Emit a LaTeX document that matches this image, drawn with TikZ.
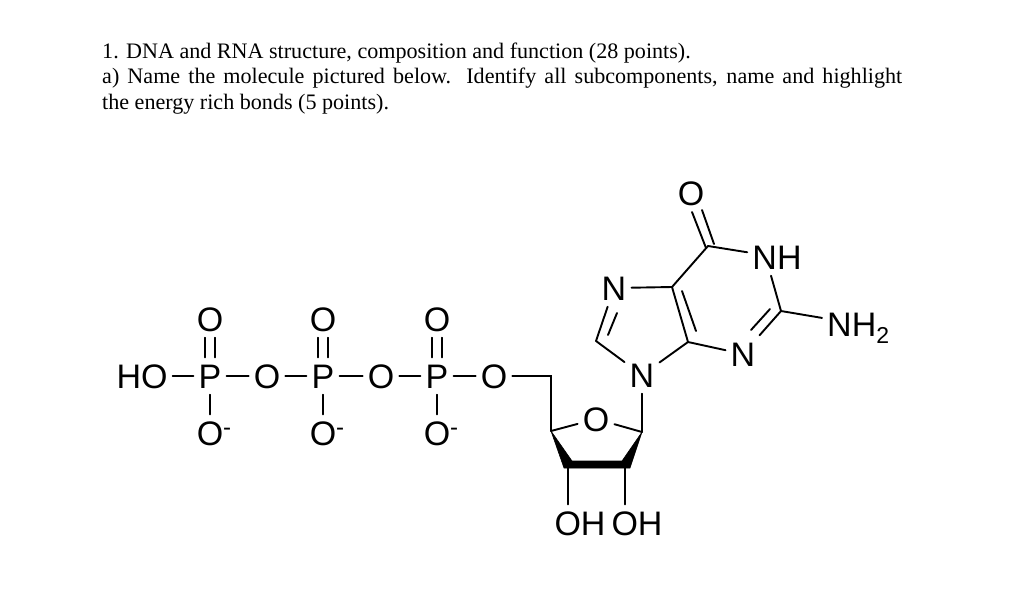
\documentclass[tikz,border=0pt]{standalone}
\usepackage{fontspec}
\setmainfont{Liberation Serif}
\newfontfamily\atomfont{Liberation Sans}
\usetikzlibrary{calc}

\tikzset{
    atom/.style={font=\atomfont\fontsize{34}{34}\selectfont, text height=24pt, text depth=0pt, inner xsep=5pt, inner ysep=6.5pt},
    bond/.style={line width=1.9pt, line cap=round},
    wedge/.style={fill=black, draw=black, line width=0.6pt, line join=round},
}

\begin{document}
\begin{tikzpicture}[
        x=1pt, y=-1pt,
    ]

    \useasboundingbox[fill=white] (0, 0) rectangle (1024, 598);

    \node[anchor=north west, align=left, inner sep=0pt,
          font=\fontsize{22.1}{25.4}\selectfont] (question) at (102, 42.5)
        {1. DNA and RNA structure, composition and function (28 points).\\
         \hbox to 800pt{a) Name the molecule pictured below. Identify all subcomponents, name and highlight}\\
         the energy rich bonds (5 points).};

    % phosphate chain
    \node[atom] (HO) at (142, 376) {HO};
    \foreach \i/\x/\ox in {1/210/267, 2/323/381, 3/437/494} {
        \node[atom] (P\i) at (\x, 376) {P};
        \node[atom] (O\i) at (\ox, 376) {O};
        \node[atom] (Ot\i) at (\x, 319) {O};
        \node[atom] (Ob\i) at (\x, 433) {O\rlap{\raisebox{10pt}{\fontsize{24}{24}\selectfont -}}};
        \draw[bond] (P\i) -- (O\i);
        \draw[bond] (P\i) -- (Ob\i);
        \draw[bond] ([xshift=-4.7pt]P\i.north) -- ([xshift=-4.7pt]Ot\i.south);
        \draw[bond] ([xshift=4.7pt]P\i.north) -- ([xshift=4.7pt]Ot\i.south);
    }
    \draw[bond] (HO) -- (P1);
    \draw[bond] (O1) -- (P2);
    \draw[bond] (O2) -- (P3);

    % sugar ring
    \coordinate (C4s) at (551, 431);
    \coordinate (C1s) at (642, 432);
    \coordinate (C3i) at (572, 461);
    \coordinate (C3o) at (564, 468);
    \coordinate (C2i) at (622, 461);
    \coordinate (C2o) at (630, 468);
    \coordinate (C3b) at (568, 468);
    \coordinate (C2b) at (625, 468);
    \node[atom] (Os) at (596, 419) {O};
    \node[atom] (OH3) at (580, 523) {OH};
    \node[atom] (OH2) at (637, 523) {OH};
    \draw[bond, line join=miter] (O3) -| (C4s);
    \draw[bond] (C4s) -- (Os);
    \draw[bond] (Os) -- (C1s);
    \draw[wedge] (C4s) -- (C3i) -- (C2i) -- (C1s) -- (C2o) -- (C3o) -- cycle;
    \draw[bond] (C3b) -- (C3b |- OH3.north);
    \draw[bond] (C2b) -- (C2b |- OH2.north);

    % guanine
    \node[atom] (N9) at (642, 375) {N};
    \node[atom] (N7) at (614, 288) {N};
    \node[atom] (N3) at (743, 354) {N};
    \node[atom] (N1) at (777, 257) {NH};
    \node[atom, anchor=west] (NH2) at (822, 324) {NH\raisebox{-7pt}{\fontsize{23}{23}\selectfont 2}};
    \node[atom] (O6) at (691, 193) {O};
    \coordinate (C6) at (708, 246);
    \coordinate (C5) at (672, 287);
    \coordinate (C4) at (688, 342);
    \coordinate (C8) at (596, 341);
    \coordinate (C2) at (781, 311);
    \draw[bond] (N9) -- (C1s);
    \draw[bond] (C6) -- (N1);
    \draw[bond] (C6) -- (C5);
    \draw[bond] (N7) -- (C5);
    \draw[bond] (C5) -- (C4);
    \draw[bond] (682, 291) -- (696, 331);
    \draw[bond] (C4) -- (N3);
    \draw[bond] (C4) -- (N9);
    \draw[bond] (C8) -- (N9);
    \draw[bond] (C8) -- (N7);
    \draw[bond] (608, 335) -- (617, 313);
    \draw[bond] ([xshift=-6pt]N1.south) -- (C2);
    \draw[bond] (C2) -- (NH2);
    \draw[bond] (C2) -- (N3);
    \draw[bond] (770, 309) -- (751, 330);
    \draw[bond] (692, 212) -- (706, 248);
    \draw[bond] (702, 210) -- (714, 244);

\end{tikzpicture}
\end{document}
